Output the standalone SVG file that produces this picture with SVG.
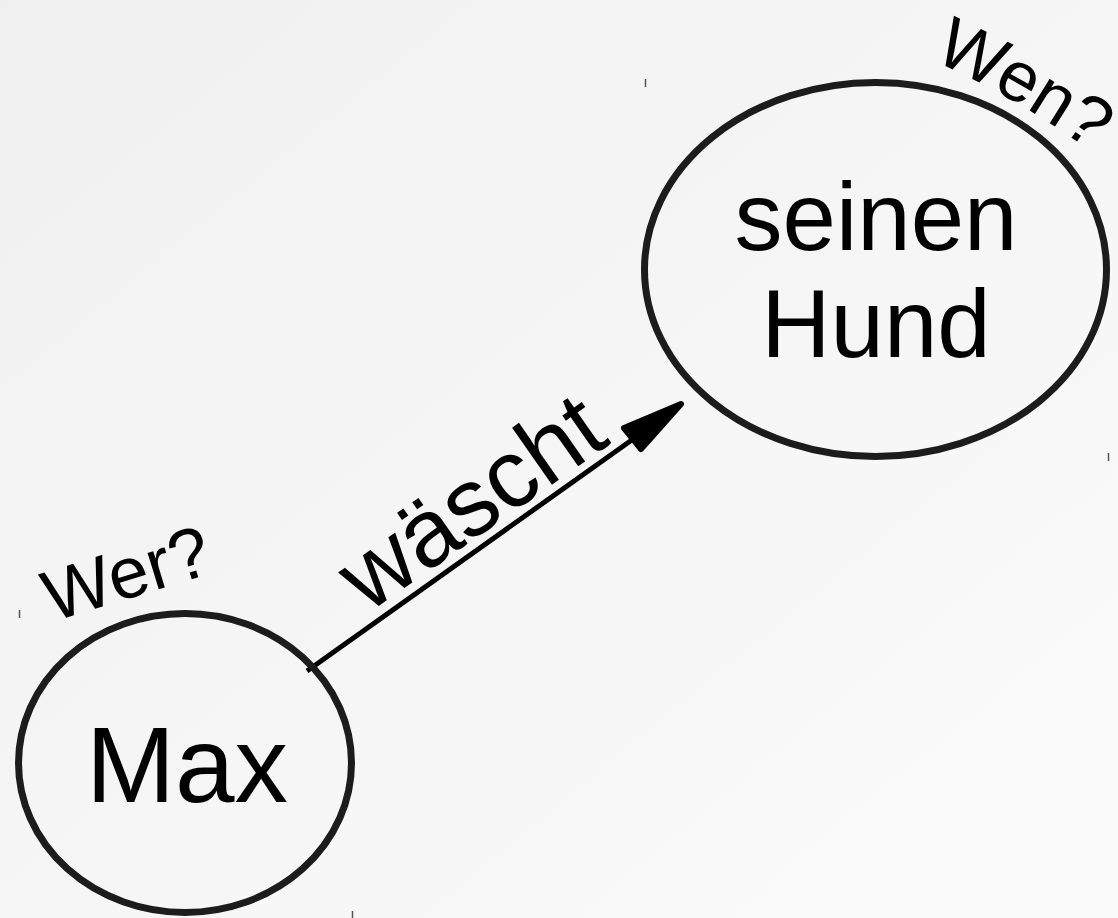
<svg xmlns="http://www.w3.org/2000/svg" width="1118" height="918" viewBox="0 0 1118 918">
  <defs>
    <linearGradient id="bg" x1="0" y1="0" x2="1" y2="1">
      <stop offset="0" stop-color="#f0f0f0"/>
      <stop offset="1" stop-color="#fbfbfb"/>
    </linearGradient>
    <path id="wenArc" d="M 932 60 A 850 850 0 0 1 1118 172"/>
    <path id="werArc" d="M 50 624 A 1200 1200 0 0 1 230 570"/>
    <style>
      .node { fill: none; stroke: #1c1c1c; stroke-width: 7; }
      .lbl { font-family: "Liberation Sans", Arial, sans-serif; fill: #000; }
      .tick { stroke: #555; stroke-width: 1.5; }
      .edge { stroke: #000; stroke-width: 5; fill: none; }
      .head { fill: #000; stroke: #000; stroke-width: 6; stroke-linejoin: round; }
    </style>
  </defs>
  <rect x="0" y="0" width="1118" height="918" fill="url(#bg)"/>
  <g id="ticks">
    <line class="tick" x1="645.5" y1="79" x2="645.5" y2="87"/>
    <line class="tick" x1="1108.5" y1="453" x2="1108.5" y2="461"/>
    <line class="tick" x1="19.5" y1="610" x2="19.5" y2="618"/>
    <line class="tick" x1="352.5" y1="911" x2="352.5" y2="918"/>
  </g>
  <g id="connectors">
    <g id="edge-waescht">
      <line class="edge" x1="307" y1="671" x2="636" y2="437"/>
      <polygon class="head" points="681,404 624,428 641,449"/>
      <text class="lbl" font-size="96" text-anchor="middle" transform="translate(489.6,528.3) rotate(-35)">wäscht</text>
    </g>
  </g>
  <g id="node-max">
    <ellipse class="node" cx="185" cy="763" rx="166.5" ry="149.5"/>
    <text class="lbl" font-size="107" text-anchor="middle" x="187" y="802">Max</text>
    <text class="lbl" font-size="72" transform="translate(52,622) rotate(-17)">Wer?</text>
  </g>
  <g id="node-hund">
    <ellipse class="node" cx="875.5" cy="269.5" rx="231" ry="187"/>
    <text class="lbl" font-size="96" text-anchor="middle" x="876" y="250">seinen</text>
    <text class="lbl" font-size="96" text-anchor="middle" x="876" y="357">Hund</text>
    <text class="lbl" font-size="71"><textPath href="#wenArc">Wen?</textPath></text>
  </g>
</svg>
